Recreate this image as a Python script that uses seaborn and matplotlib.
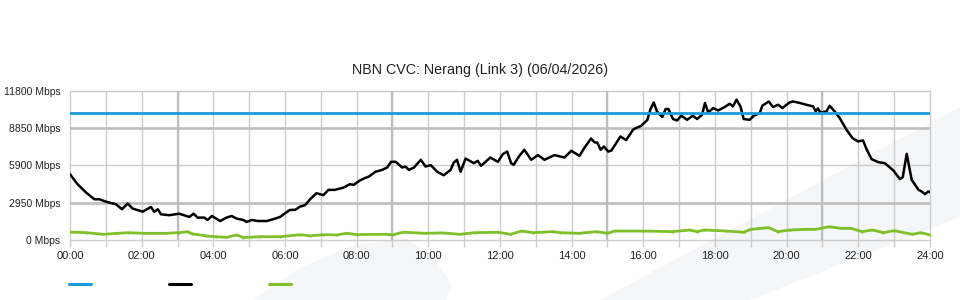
import matplotlib
matplotlib.use("Agg")
import matplotlib.pyplot as plt
from matplotlib.patches import Polygon
from matplotlib.lines import Line2D
from matplotlib.ticker import MultipleLocator, FixedLocator
import seaborn as sns
import pandas as pd

title = "NBN CVC: Nerang (Link 3) (06/04/2026)"

y_ticks = [0, 2950, 5900, 8850, 11800]
y_tick_labels = ["0 Mbps", "2950 Mbps", "5900 Mbps", "8850 Mbps", "11800 Mbps"]
x_ticks = [0, 2, 4, 6, 8, 10, 12, 14, 16, 18, 20, 22, 24]
x_tick_labels = ["00:00", "02:00", "04:00", "06:00", "08:00", "10:00", "12:00",
                 "14:00", "16:00", "18:00", "20:00", "22:00", "24:00"]

capacity_t = [0, 24]
capacity_v = [10000, 10000]

traffic_t = [0.00, 0.21, 0.45, 0.68, 0.82, 1.00, 1.28, 1.45, 1.61, 1.75, 2.03, 2.26, 2.35,
             2.45, 2.54, 2.77, 3.05, 3.33, 3.45, 3.56, 3.75, 3.84, 3.96, 4.19, 4.37, 4.51,
             4.65, 4.84, 4.93, 5.07, 5.25, 5.49, 5.67, 5.86, 6.00, 6.14, 6.28, 6.42, 6.56,
             6.70, 6.88, 7.07, 7.21, 7.39, 7.63, 7.81, 7.92, 8.07, 8.20, 8.34, 8.52, 8.71,
             8.85, 8.96, 9.09, 9.27, 9.36, 9.46, 9.60, 9.79, 9.92, 10.07, 10.25, 10.43,
             10.62, 10.71, 10.80, 10.90, 11.04, 11.27, 11.38, 11.47, 11.73, 11.94, 12.08,
             12.20, 12.31, 12.38, 12.54, 12.68, 12.87, 13.06, 13.24, 13.52, 13.80, 13.99,
             14.22, 14.33, 14.54, 14.64, 14.71, 14.81, 14.90, 15.02, 15.11, 15.36, 15.52,
             15.72, 15.94, 16.11, 16.20, 16.29, 16.38, 16.53, 16.62, 16.70, 16.83, 16.94,
             17.06, 17.22, 17.38, 17.50, 17.64, 17.72, 17.81, 17.95, 18.09, 18.27, 18.41,
             18.50, 18.60, 18.71, 18.80, 18.97, 19.08, 19.25, 19.32, 19.50, 19.62, 19.76,
             19.88, 20.08, 20.18, 20.37, 20.55, 20.74, 20.81, 20.87, 20.94, 21.11, 21.20,
             21.34, 21.48, 21.67, 21.84, 21.99, 22.13, 22.23, 22.37, 22.56, 22.74, 22.98,
             23.16, 23.24, 23.35, 23.49, 23.68, 23.77, 23.86, 23.95, 24.00]
traffic_v = [5200, 4410, 3750, 3220, 3220, 3030, 2830, 2430, 2880, 2480, 2240, 2610, 2220,
             2430, 2030, 1960, 2080, 1820, 2080, 1770, 1770, 1580, 1900, 1500, 1770, 1900,
             1690, 1580, 1430, 1580, 1500, 1500, 1640, 1820, 2110, 2380, 2380, 2640, 2750,
             3220, 3700, 3540, 3960, 3960, 4140, 4410, 4360, 4670, 4860, 5010, 5390, 5540,
             5730, 6180, 6180, 5730, 5810, 5540, 5730, 6340, 5810, 5910, 5390, 5120,
             5540, 6120, 6340, 5390, 6440, 6070, 6260, 5860, 6520, 6180, 6790,
             6990, 6070, 5940, 6650, 7130, 6340, 6710, 6340, 6710, 6520, 7050,
             6650, 7180, 8020, 7710, 7710, 7130, 7390, 6990, 7070, 8180, 7900,
             8740, 9030, 9480, 10350, 10870, 10160, 9720, 10350, 10350, 9560, 9450,
             9820, 9500, 9820, 9560, 9900, 10830, 10080, 10430, 10240, 10510, 10770,
             10560, 11090, 10560, 9560, 9500, 9820, 10030, 10610, 10950, 10510, 10690,
             10430, 10870, 10950, 10830, 10690, 10560, 10160, 10400, 10080, 10160, 10610,
             10160, 9640, 8710, 8050, 7790, 7870, 7180, 6390, 6150, 6070, 5490,
             4810, 4970, 6810, 4750, 3960, 3830, 3620, 3830, 3780]

upload_t = [0.0, 0.45, 0.93, 1.3, 1.61, 2.03, 2.68, 3.05, 3.28, 3.4, 3.8, 4.07, 4.37, 4.65,
            4.84, 5.3, 5.86, 6.42, 6.7, 7.07, 7.44, 7.72, 8.0, 8.84, 9.0, 9.3, 9.9, 10.4,
            10.88, 11.3, 11.95, 12.3, 12.6, 12.93, 13.49, 13.67, 14.2, 14.7, 15.0, 15.2,
            16.0, 16.8, 17.3, 17.5, 17.7, 18.3, 18.8, 19.0, 19.5, 19.75, 20.1, 20.5, 20.8,
            21.2, 21.5, 21.8, 22.1, 22.4, 22.7, 23.0, 23.5, 23.75, 24.0]
upload_v = [630, 580, 450, 520, 580, 530, 530, 580, 660, 500, 320, 260, 210, 400,
            190, 260, 260, 420, 330, 420, 400, 530, 430, 450, 400, 620, 530, 560,
            450, 580, 610, 450, 710, 580, 660, 580, 530, 660, 530, 710,
            710, 660, 790, 660, 790, 710, 610, 840, 980, 660, 790, 840, 840,
            1050, 920, 920, 660, 790, 580, 740, 450, 580, 400]

BLUE = "#1b9bd8"
BLACK = "#000000"
GREEN = "#7fc02a"

sns.set_theme(style="white")
plt.rcParams["font.family"] = ["Liberation Sans", "DejaVu Sans"]

W, H = 960, 300
fig = plt.figure(figsize=(W / 100, H / 100), dpi=100)
fig.patch.set_facecolor("white")

# faint watermark shapes in a background axes (figure pixel coords, y from top)
bg = fig.add_axes([0, 0, 1, 1], zorder=-10)
bg.set_xlim(0, W)
bg.set_ylim(H, 0)
bg.axis("off")
wm = "#f5f6f8"
bg.add_patch(Polygon([(253, 300), (300, 268), (350, 246), (405, 238), (432, 255),
                      (452, 285), (446, 300)], closed=True, facecolor=wm, edgecolor="none"))
bg.add_patch(Polygon([(600, 300), (960, 107), (960, 217), (750, 300)], closed=True,
                     facecolor=wm, edgecolor="none"))

left, right, top, bottom = 70, 930, 90.7, 240
ax = fig.add_axes([left / W, 1 - bottom / H, (right - left) / W, (bottom - top) / H], zorder=1)
ax.set_facecolor("none")

df_cap = pd.DataFrame({"t": capacity_t, "v": capacity_v})
df_tr = pd.DataFrame({"t": traffic_t, "v": traffic_v})
df_up = pd.DataFrame({"t": upload_t, "v": upload_v})

sns.lineplot(data=df_up, x="t", y="v", ax=ax, color=GREEN, lw=2.0, zorder=4,
             marker="o", markersize=1.6, markeredgewidth=0)
sns.lineplot(data=df_tr, x="t", y="v", ax=ax, color=BLACK, lw=1.8, zorder=5)
sns.lineplot(data=df_cap, x="t", y="v", ax=ax, color=BLUE, lw=2.0, zorder=6)

ax.set_xlim(0, 24)
ax.set_ylim(0, 11800)
ax.set_xlabel("")
ax.set_ylabel("")

ax.xaxis.set_major_locator(FixedLocator(x_ticks))
ax.set_xticklabels(x_tick_labels)
ax.xaxis.set_minor_locator(MultipleLocator(1))
ax.yaxis.set_major_locator(FixedLocator(y_ticks))
ax.set_yticklabels(y_tick_labels)

light = "#cccccc"
dark = "#bdbdbd"
ax.grid(which="both", axis="x", color=light, lw=1.0, zorder=1)
ax.grid(which="major", axis="y", color=light, lw=1.0, zorder=1)
for h in [3, 9, 15, 21]:
    ax.axvline(h, color=dark, lw=1.6, zorder=1)
for v in [2950, 8850]:
    ax.axhline(v, color=dark, lw=1.8, zorder=1)
for gl in ax.get_xgridlines() + ax.get_ygridlines():
    gl.set_clip_on(False)

for s in ax.spines.values():
    s.set_visible(False)

ax.tick_params(axis="x", which="both", length=5, width=1, color=light, pad=3,
               labelsize=8, labelcolor="#222222", bottom=True)
ax.tick_params(axis="y", which="both", length=0, pad=7, labelsize=7.5, labelcolor="#222222")

fig.text(0.5, 1 - 70 / H, title, ha="center", va="center", fontsize=10.3, color="#222222")

handles = [Line2D([], [], color=BLUE, lw=2.2),
           Line2D([], [], color=BLACK, lw=2.2),
           Line2D([], [], color=GREEN, lw=2.2)]
fig.legend(handles, ["", "", ""], ncol=3, loc="center left",
           bbox_to_anchor=(69 / W, 1 - 285 / H), frameon=False, fontsize=10,
           handlelength=1.55, handletextpad=0.0, columnspacing=5.65, borderpad=0,
           borderaxespad=0)

fig.savefig("out.png", dpi=100)
